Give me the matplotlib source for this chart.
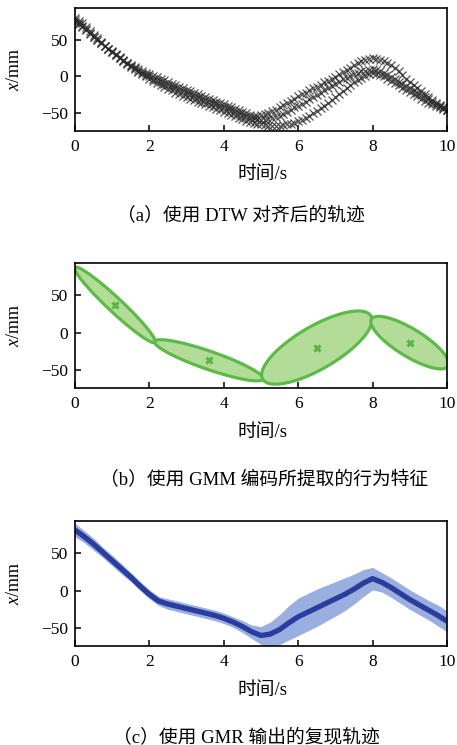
import numpy as np
import matplotlib
matplotlib.use("Agg")
import matplotlib.pyplot as plt

# (a) three demonstrations after DTW alignment, sampled every 0.1 s
time_a = np.round(np.arange(0, 10.01, 0.1), 1)
demo_1 = [80, 76, 72, 67, 62, 57, 52, 47, 42, 38, 34,
          30, 26, 22, 19, 16, 13, 10, 7, 5, 3,
          1, -1, -3, -5, -8, -10, -12, -14, -16, -18,
          -20, -22, -24, -26, -28, -30, -32, -34, -36, -38,
          -40, -42, -44, -46, -48, -50, -52, -53, -53, -52,
          -51, -49, -47, -45, -42, -39, -36, -33, -30, -27,
          -24, -22, -19, -16, -14, -11, -8, -6, -3, -1,
          3, 6, 9, 12, 15, 18, 21, 23, 24, 25,
          24, 23, 21, 18, 15, 11, 7, 2, -3, -8,
          -12, -16, -20, -24, -28, -32, -36, -39, -42, -45]
demo_2 = [77, 73, 69, 64, 59, 54, 49, 45, 41, 37, 33,
          29, 25, 21, 18, 14, 11, 8, 5, 2, 0,
          -3, -5, -8, -10, -12, -14, -16, -18, -20, -22,
          -24, -26, -28, -30, -32, -34, -36, -38, -40, -42,
          -44, -46, -48, -50, -52, -54, -56, -57, -58, -59,
          -59, -58, -57, -55, -53, -51, -48, -45, -42, -40,
          -37, -34, -31, -28, -25, -22, -19, -16, -13, -10,
          -7, -4, -2, 1, 3, 5, 7, 8, 9, 10,
          9, 7, 5, 2, -1, -4, -7, -10, -13, -16,
          -19, -22, -25, -28, -31, -34, -37, -40, -43, -46]
demo_3 = [74, 71, 67, 63, 58, 53, 49, 45, 41, 37, 33,
          29, 25, 21, 17, 13, 10, 6, 3, 0, -3,
          -6, -9, -12, -14, -17, -19, -22, -24, -26, -28,
          -30, -32, -34, -36, -38, -40, -42, -44, -46, -48,
          -50, -52, -54, -56, -58, -60, -62, -63, -64, -65,
          -66, -67, -67, -67, -67, -66, -65, -64, -63, -61,
          -59, -56, -53, -50, -47, -43, -40, -36, -32, -28,
          -24, -20, -16, -12, -8, -5, -2, 1, 3, 5,
          4, 2, 0, -3, -6, -9, -12, -15, -18, -21,
          -24, -27, -30, -33, -36, -38, -40, -42, -44, -46]

# (b) GMM components: centre, major half-axis and minor half-axis (t, x)
gmm_t = [1.075, 3.6, 6.5, 9.0]
gmm_x = [37, -37, -20, -13.4]
major_dt = [1.075, 1.455, 1.455, 1.03]
major_dx = [-50, -25, 42.25, -31.4]
minor_dt = [0.13, 0.08, -0.29, 0.19]
minor_dx = [7.0, 11.4, 24.6, 15.7]

# (c) GMR output: mean and spread every 0.25 s
time_c = np.arange(0, 10.01, 0.25)
gmr_mean = [81, 72, 62, 51, 40, 29, 18, 6, -5, -14, -18, -21, -24, -27,
            -30, -33, -37, -42, -48, -55, -60, -58, -52, -43, -35, -29,
            -23, -17, -11, -5, 2, 10, 16, 11, 4, -4, -12, -19, -26, -33, -41]
gmr_std = [9, 8, 8, 7, 7, 7, 6, 6, 6, 6, 7, 7, 7, 7,
           7, 7, 7, 7, 8, 9, 12, 16, 20, 23, 25, 25,
           25, 24, 23, 22, 20, 18, 15, 13, 13, 13, 13, 13, 13, 14, 14]

captions = ["（a）使用 DTW 对齐后的轨迹",
            "（b）使用 GMM 编码所提取的行为特征",
            "（c）使用 GMR 输出的复现轨迹"]

fonts = ["Liberation Serif", "Noto Sans CJK SC"]
plt.rcParams["font.family"] = fonts
plt.rcParams["font.size"] = 12.5
plt.rcParams["axes.unicode_minus"] = True
plt.rcParams["mathtext.fontset"] = "custom"
plt.rcParams["mathtext.it"] = "Liberation Serif:italic"
plt.rcParams["mathtext.rm"] = "Liberation Serif"

W, H = 457, 745
fig = plt.figure(figsize=(W / 100, H / 100), dpi=100)

# axes boxes in pixels: (top, bottom)
boxes = [(8, 131), (263, 388), (521, 646)]
left, right = 75, 447
axes = []
for top, bottom in boxes:
    ax = fig.add_axes([left / W, 1 - bottom / H, (right - left) / W, (bottom - top) / H])
    ax.set_xlim(0, 10)
    ax.set_ylim(-74, 93)
    ax.set_xticks([0, 2, 4, 6, 8, 10])
    ax.set_yticks([-50, 0, 50])
    ax.tick_params(direction="in", length=4, width=1.1, labelsize=12.5,
                   top=False, right=False)
    ax.tick_params(axis="x", pad=6)
    ax.tick_params(axis="y", pad=5)
    for s in ax.spines.values():
        s.set_linewidth(1.2)
    axes.append(ax)

# (a)
ax = axes[0]
for demo in (demo_1, demo_2, demo_3):
    ax.plot(time_a, demo, linestyle="none", marker="x", markersize=5.5,
            markeredgewidth=0.9, color="#2b2b2b", alpha=0.8)

# (b)
ax = axes[1]
theta = np.linspace(0, 2 * np.pi, 300)
for i in range(len(gmm_t)):
    et = gmm_t[i] + major_dt[i] * np.cos(theta) + minor_dt[i] * np.sin(theta)
    ex = gmm_x[i] + major_dx[i] * np.cos(theta) + minor_dx[i] * np.sin(theta)
    ax.fill(et, ex, facecolor="#b3dc98", edgecolor="#5cba48", linewidth=2.3)
ax.plot(gmm_t, gmm_x, linestyle="none", marker="x", markersize=5,
        markeredgewidth=2.2, color="#58b546")

# (c)
ax = axes[2]
lower = np.array(gmr_mean) - np.array(gmr_std)
upper = np.array(gmr_mean) + np.array(gmr_std)
ax.fill_between(time_c, lower, upper, color="#9aaee0", linewidth=0)
ax.plot(time_c, gmr_mean, color="#2a3d9e", linewidth=3.8,
        solid_capstyle="butt", solid_joinstyle="round")

# labels and captions
xlabel_y = [175, 432, 690]
caption_y = [215, 480, 737]
caption_x = [241, 264, 246]
for i, ax in enumerate(axes):
    top, bottom = boxes[i]
    fig.text(15 / W, 1 - (top + bottom) / 2 / H, "$x$/mm", rotation=90,
             ha="center", va="center", fontsize=13, family=fonts)
    fig.text(262 / W, 1 - xlabel_y[i] / H, "时间/s", ha="center", va="center",
             fontsize=13.5, family=fonts)
    fig.text(caption_x[i] / W, 1 - caption_y[i] / H, captions[i], ha="center",
             va="center", fontsize=13.5, family=fonts)

fig.savefig("out.png", dpi=100)
